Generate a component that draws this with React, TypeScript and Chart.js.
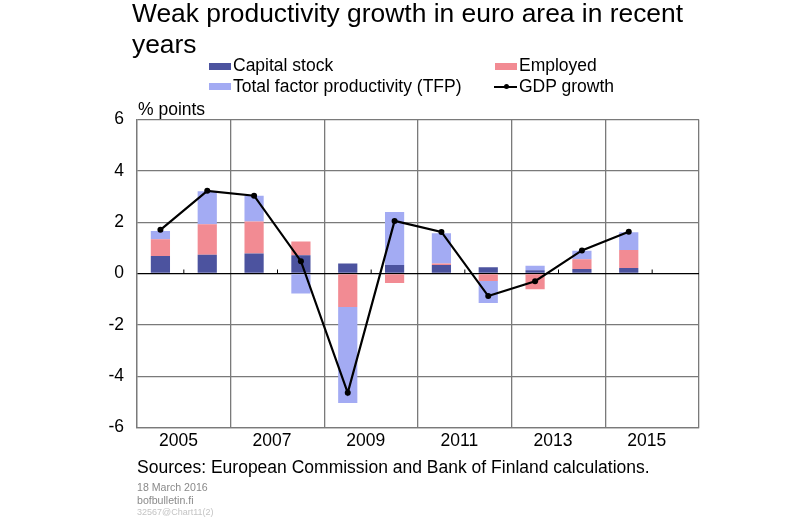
import { useEffect, useRef } from "react"
import { Chart, registerables, type ChartConfiguration } from "chart.js"

Chart.register(...registerables)

const years = ["2005", "2006", "2007", "2008", "2009", "2010", "2011", "2012", "2013", "2014", "2015", "2016"]
const capitalStock = [0.68, 0.73, 0.78, 0.71, 0.39, 0.33, 0.33, 0.24, 0.13, 0.18, 0.21, null]
const employed = [0.65, 1.19, 1.25, 0.54, -1.31, -0.37, 0.06, -0.29, -0.61, 0.38, 0.71, null]
const tfp = [0.33, 1.28, 1.0, -0.78, -3.74, 2.07, 1.18, -0.86, 0.17, 0.33, 0.69, null]
const gdpGrowth = [1.7, 3.22, 3.03, 0.48, -4.65, 2.05, 1.62, -0.88, -0.3, 0.9, 1.63, null]
const yTicks = [-6, -4, -2, 0, 2, 4, 6]

const FONT = "'Liberation Sans', Arial, sans-serif"
const DARK_BLUE = "#4c539f"
const PINK = "#f28b93"
const LIGHT_BLUE = "#a3abf3"
const GRID = "#7a7a7a"

export default function App() {
  const chartRef = useRef<HTMLCanvasElement>(null)
  const chartInstance = useRef<Chart | null>(null)

  useEffect(() => {
    if (!chartRef.current) return
    const ctx = chartRef.current.getContext("2d")
    if (!ctx) return

    if (chartInstance.current) {
      chartInstance.current.destroy()
    }

    Chart.defaults.font.family = FONT

    const config: ChartConfiguration = {
      type: "bar",
      data: {
        labels: years,
        datasets: [
          {
            type: "line",
            label: "GDP growth",
            data: gdpGrowth,
            borderColor: "#000",
            borderWidth: 2.2,
            pointRadius: 3,
            pointBackgroundColor: "#000",
            pointBorderWidth: 0,
            stack: "gdp",
            order: 0,
          },
          {
            label: "Capital stock",
            data: capitalStock,
            backgroundColor: DARK_BLUE,
            stack: "parts",
            order: 1,
          },
          {
            label: "Employed",
            data: employed,
            backgroundColor: PINK,
            stack: "parts",
            order: 1,
          },
          {
            label: "Total factor productivity (TFP)",
            data: tfp,
            backgroundColor: LIGHT_BLUE,
            stack: "parts",
            order: 1,
          },
        ] as any,
      },
      options: {
        responsive: false,
        animation: false,
        layout: { padding: { left: 100, top: 119.5, right: 101, bottom: 64.5 } },
        datasets: {
          bar: { categoryPercentage: 1, barPercentage: 0.41 },
        },
        scales: {
          x: {
            stacked: true,
            offset: true,
            afterFit: (scale) => {
              scale.height = 30
            },
            grid: {
              offset: true,
              drawTicks: false,
              lineWidth: 1.3,
              color: (c: any) => (c.index === undefined || c.index % 2 === 0 ? GRID : "rgba(0,0,0,0)"),
            },
            border: { display: true, color: GRID, width: 1.3 },
            ticks: {
              autoSkip: false,
              maxRotation: 0,
              padding: 3,
              labelOffset: 18,
              color: "#000",
              font: { size: 17.5 },
              callback: (_v, i) => (i % 2 === 0 && i < 11 ? years[i] : ""),
            },
          },
          y: {
            stacked: true,
            min: -6,
            max: 6,
            afterFit: (scale) => {
              scale.width = 37
            },
            afterBuildTicks: (scale) => {
              scale.ticks = yTicks.map((v) => ({ value: v }))
            },
            grid: {
              drawTicks: false,
              lineWidth: 1.3,
              color: (c: any) => (c.tick && c.tick.value === 0 ? "#000" : GRID),
            },
            border: { display: true, color: GRID, width: 1.3 },
            ticks: {
              padding: 13,
              color: "#000",
              font: { size: 17.5 },
            },
          },
        },
        plugins: {
          legend: { display: false },
          title: { display: false },
          tooltip: { enabled: false },
        },
      },
      plugins: [
        {
          id: "minorTicks",
          beforeDatasetsDraw: (chart) => {
            const xs = chart.scales.x
            const ys = chart.scales.y
            const c = chart.ctx
            const y0 = ys.getPixelForValue(0)
            c.save()
            c.strokeStyle = "#000"
            c.lineWidth = 1
            for (let i = 1; i < years.length; i += 2) {
              const x = (xs.getPixelForValue(i - 1) + xs.getPixelForValue(i)) / 2
              c.beginPath()
              c.moveTo(x, y0)
              c.lineTo(x, y0 - 4)
              c.stroke()
            }
            c.restore()
          },
        },
      ],
    }

    chartInstance.current = new Chart(ctx, config)

    return () => {
      if (chartInstance.current) {
        chartInstance.current.destroy()
        chartInstance.current = null
      }
    }
  }, [])

  const text: React.CSSProperties = { position: "absolute", fontFamily: FONT, whiteSpace: "nowrap", color: "#000" }
  const swatch = (color: string, left: number, top: number): React.CSSProperties => ({
    position: "absolute",
    left,
    top,
    width: 22,
    height: 7,
    background: color,
  })

  return (
    <div style={{ position: "absolute", left: 0, top: 0, width: 800, height: 522, background: "#fff", overflow: "hidden" }}>
      <canvas ref={chartRef} width={800} height={522} style={{ position: "absolute", left: 0, top: 0 }} />

      <div style={{ ...text, left: 132, top: -2, fontSize: 26.4, lineHeight: "31px" }}>
        Weak productivity growth in euro area in recent
        <br />
        years
      </div>

      <div style={swatch(DARK_BLUE, 209, 63)} />
      <div style={{ ...text, left: 233, top: 55, fontSize: 17.5, lineHeight: "20px" }}>Capital stock</div>
      <div style={swatch(PINK, 495, 63)} />
      <div style={{ ...text, left: 519, top: 55, fontSize: 17.5, lineHeight: "20px" }}>Employed</div>
      <div style={swatch(LIGHT_BLUE, 209, 83)} />
      <div style={{ ...text, left: 233, top: 76, fontSize: 17.5, lineHeight: "20px" }}>Total factor productivity (TFP)</div>
      <div style={{ position: "absolute", left: 494, top: 85.5, width: 23, height: 2, background: "#000" }} />
      <div style={{ position: "absolute", left: 503.5, top: 84, width: 5, height: 5, borderRadius: 3, background: "#000" }} />
      <div style={{ ...text, left: 519, top: 76, fontSize: 17.5, lineHeight: "20px" }}>GDP growth</div>

      <div style={{ ...text, left: 138, top: 99, fontSize: 17.5, lineHeight: "20px" }}>% points</div>

      <div style={{ ...text, left: 137, top: 457, fontSize: 17.5, lineHeight: "20px" }}>
        Sources: European Commission and Bank of Finland calculations.
      </div>
      <div style={{ ...text, left: 137, top: 480, fontSize: 10.6, lineHeight: "14px", color: "#8a8a8a" }}>18 March 2016</div>
      <div style={{ ...text, left: 137, top: 493, fontSize: 10.6, lineHeight: "14px", color: "#8a8a8a" }}>bofbulletin.fi</div>
      <div style={{ ...text, left: 137, top: 506, fontSize: 9, lineHeight: "12px", color: "#c4c4c4" }}>32567@Chart11(2)</div>
    </div>
  )
}
